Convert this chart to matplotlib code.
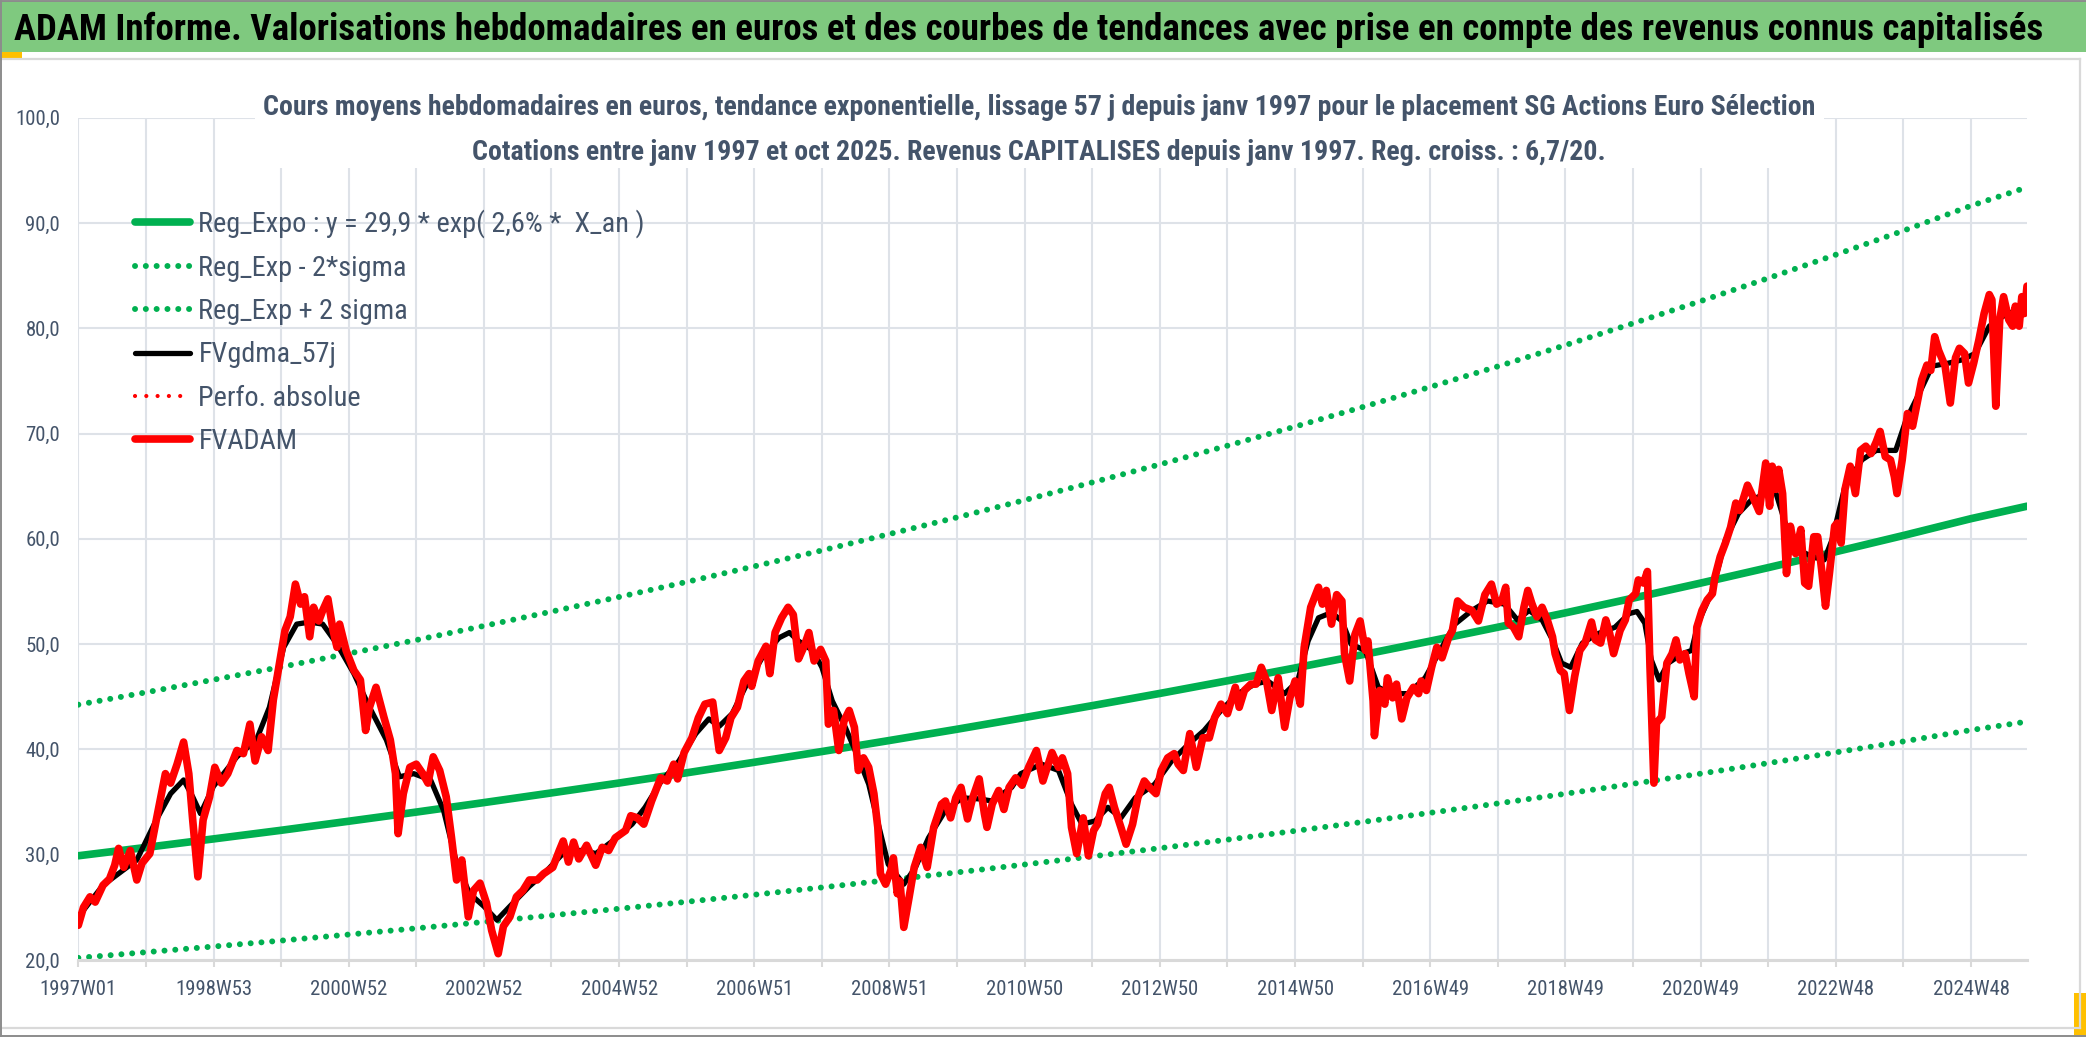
import matplotlib
matplotlib.use("Agg")
import matplotlib.pyplot as plt
from matplotlib import font_manager
from matplotlib.lines import Line2D
from matplotlib.patches import Rectangle
from matplotlib.ticker import FixedLocator, FuncFormatter

# ---------------- DATA ----------------
TITLE = ("ADAM Informe. Valorisations hebdomadaires en euros et des courbes de tendances "
         "avec prise en compte des revenus connus capitalisés")
SUBTITLE_1 = ("Cours moyens hebdomadaires en euros, tendance exponentielle, lissage 57 j depuis "
              "janv 1997 pour le placement SG Actions Euro Sélection")
SUBTITLE_2 = ("Cotations entre janv 1997 et oct 2025. Revenus CAPITALISES depuis janv 1997. "
              "Reg. croiss. : 6,7/20.")

X_LABELS = ["1997W01", "1998W53", "2000W52", "2002W52", "2004W52", "2006W51", "2008W51",
            "2010W50", "2012W50", "2014W50", "2016W49", "2018W49", "2020W49", "2022W48", "2024W48"]
N_WEEKS = 1500
Y_TICKS = [20, 30, 40, 50, 60, 70, 80, 90, 100]

SERIES_NAMES = ["Reg_Expo : y = 29,9 * exp( 2,6% *  X_an )", "Reg_Exp - 2*sigma",
                "Reg_Exp + 2 sigma", "FVgdma_57j", "Perfo. absolue", "FVADAM"]

# trend curves read at each yearly grid line (week 0, 52, ..., 1456) and at the last week
TREND_WEEK = list(range(0, 1457, 52)) + [1499]
REG_EXPO = [29.9, 30.69, 31.50, 32.32, 33.18, 34.05, 34.95, 35.87, 36.81, 37.78,
            38.78, 39.80, 40.85, 41.92, 43.03, 44.16, 45.32, 46.52, 47.74, 49.00,
            50.29, 51.61, 52.97, 54.37, 55.80, 57.27, 58.78, 60.32, 61.92, 63.1]
REG_LOW = [20.20, 20.74, 21.28, 21.84, 22.42, 23.01, 23.61, 24.24, 24.87, 25.53,
           26.20, 26.89, 27.60, 28.32, 29.07, 29.84, 30.62, 31.43, 32.26, 33.11,
           33.98, 34.87, 35.79, 36.74, 37.70, 38.70, 39.72, 40.76, 41.84, 42.64]
REG_HIGH = [44.25, 45.42, 46.62, 47.83, 49.11, 50.39, 51.73, 53.09, 54.48, 55.91,
            57.39, 58.90, 60.46, 62.04, 63.68, 65.36, 67.07, 68.85, 70.66, 72.52,
            74.43, 76.38, 78.40, 80.47, 82.58, 84.76, 86.99, 89.27, 91.64, 93.39]

# FVADAM (weekly valuation)
FVADAM_WEEK = [
    0, 4, 9, 13, 19, 24, 28, 31, 35, 40, 45, 49, 55, 60, 67, 71, 76, 81, 85, 88,
    92, 96, 101, 105, 110, 115, 122, 127, 132, 136, 141, 146, 150, 155, 159, 163, 167, 171, 174, 178,
    181, 185, 188, 192, 196, 199, 201, 206, 212, 217, 221, 224, 229, 235, 240, 244, 246, 250, 255, 260,
    265, 269, 273, 278, 283, 287, 291, 295, 300, 304, 309, 314, 318, 323, 327, 332, 337, 342, 347, 353,
    358,
    365, 370, 373, 377, 381, 385, 391, 398, 403, 408, 413, 421, 425, 430, 435, 441, 448, 453, 458, 461,
    466, 472, 477, 482, 488, 493, 498, 502, 507, 512, 516, 518, 523, 529, 532, 536, 541, 546, 550, 554,
    558, 562, 566, 571, 575, 577, 581, 585, 589, 593, 597, 600, 604, 608, 612, 615, 617, 621, 625, 627,
    630, 632, 635, 639, 643, 648, 653, 658, 664, 667, 671, 675, 679, 684, 688, 693, 697, 699, 703, 708,
    712, 716, 721, 726,
    731, 737, 742, 749, 754, 757, 761, 764, 768, 773, 777, 781, 784, 790, 793, 797, 802, 806, 811, 815,
    820, 824, 829, 833, 838, 843, 846, 850, 855, 860, 865, 870, 874, 879, 884, 890, 893, 897, 902, 906,
    910, 914, 918, 923, 928, 932, 936, 940, 943, 948, 954, 957, 960, 964, 968, 972, 974, 978, 982, 986,
    990, 992, 996, 997, 1001, 1005, 1007, 1011, 1014, 1018, 1022, 1027, 1031, 1033, 1037, 1041, 1045, 1049, 1054, 1057,
    1061, 1066, 1072, 1077, 1082, 1087, 1091, 1095, 1098,
    1100, 1104, 1108, 1112, 1115, 1118, 1122, 1126, 1130, 1134, 1136, 1140, 1143, 1147, 1151, 1155, 1159, 1164, 1167, 1171,
    1175, 1178, 1181, 1186, 1190, 1193, 1198, 1200, 1204, 1207, 1209, 1212, 1214, 1218, 1222, 1226, 1229, 1232, 1236, 1239,
    1243, 1245, 1249, 1253, 1257, 1259, 1263, 1267, 1271, 1275, 1278, 1284, 1287, 1293, 1298,
    1301, 1303, 1306, 1308, 1311, 1314, 1317, 1321, 1325, 1328, 1331, 1335, 1338, 1341, 1344, 1347, 1351, 1353, 1356, 1359,
    1363, 1367, 1371, 1375, 1379, 1383, 1386, 1390, 1394, 1397, 1399, 1403, 1407, 1411, 1415, 1418, 1422, 1425, 1428, 1431,
    1436, 1440, 1444, 1447, 1451, 1454, 1458, 1462, 1466, 1470, 1472, 1475, 1478, 1481, 1485, 1488, 1490, 1493, 1495, 1497,
    1499,
]
FVADAM = [
    23.3, 25.0, 26.0, 25.5, 27.1, 27.7, 29.0, 30.6, 28.8, 30.4, 27.6, 29.2, 30.1, 33.3, 37.7, 36.8, 38.6, 40.7, 37.7, 33.3,
    27.9, 33.3, 35.5, 38.3, 36.8, 37.7, 39.9, 39.6, 42.4, 38.9, 41.2, 39.9, 44.7, 48.4, 51.3, 52.6, 55.7, 53.8, 54.5, 50.7,
    53.5, 52.2, 53.2, 54.3, 51.3, 49.7, 51.9, 49.4, 47.5, 46.6, 41.8, 44.0, 45.9, 43.1, 40.9, 37.7, 32.0, 35.8, 38.3, 38.6,
    37.7, 36.8, 39.3, 38.0, 35.5, 31.7, 27.6, 29.5, 24.1, 26.6, 27.3, 25.4, 22.8, 20.6, 23.2, 24.1, 26.0, 26.6, 27.6, 27.6,
    28.2,
    28.8, 30.4, 31.3, 29.3, 31.2, 29.6, 30.9, 29.0, 30.7, 30.4, 31.6, 32.3, 33.7, 33.5, 32.9, 35.1, 37.3, 37.0, 38.6, 37.2,
    39.7, 41.1, 43.0, 44.3, 44.5, 39.9, 41.1, 43.0, 44.0, 46.5, 47.2, 46.0, 48.4, 49.8, 47.2, 51.1, 52.5, 53.5, 52.8, 48.6,
    49.7, 51.1, 48.4, 49.5, 48.4, 42.4, 43.7, 39.9, 42.7, 43.7, 42.1, 38.0, 39.2, 38.3, 35.8, 32.6, 28.2, 27.2, 28.5, 29.7,
    26.3, 27.5, 23.1, 25.9, 28.8, 30.7, 28.8, 32.6, 34.8, 35.1, 33.5, 35.4, 36.4, 33.4, 35.4, 37.2, 33.9, 32.6, 34.8, 36.1,
    34.3, 36.4, 37.3, 36.6,
    38.3, 39.9, 37.0, 39.7, 38.3, 39.2, 37.7, 32.6, 30.1, 33.5, 29.9, 32.3, 32.9, 35.8, 36.4, 34.5, 32.6, 31.0, 32.9, 35.4,
    37.0, 36.4, 35.8, 38.0, 39.2, 39.6, 38.6, 38.0, 41.5, 38.3, 41.1, 41.1, 43.0, 44.3, 43.4, 45.9, 44.0, 45.6, 46.2, 46.2,
    47.8, 46.5, 43.7, 46.8, 42.1, 44.9, 46.5, 44.3, 49.7, 53.5, 55.4, 53.8, 55.1, 51.9, 54.7, 54.1, 49.1, 46.5, 50.9, 52.2,
    49.4, 50.3, 44.6, 41.3, 45.6, 44.3, 46.8, 44.9, 46.2, 42.9, 44.9, 45.9, 45.3, 46.5, 45.6, 47.8, 49.7, 48.7, 50.6, 51.3,
    54.1, 53.5, 53.2, 52.2, 54.7, 55.7, 53.8, 54.1, 55.4,
    52.0, 51.6, 50.7, 53.5, 55.1, 53.9, 52.6, 53.5, 52.3, 50.7, 49.1, 47.5, 47.2, 43.7, 46.9, 49.4, 50.1, 52.1, 50.4, 50.1,
    52.3, 51.0, 49.1, 51.3, 52.3, 54.2, 54.8, 56.1, 55.8, 56.9, 47.8, 36.8, 42.5, 43.1, 48.2, 49.1, 50.4, 48.5, 49.1, 47.2,
    45.0, 51.6, 53.2, 54.2, 54.8, 56.4, 58.3, 59.6, 61.1, 63.4, 62.7, 65.1, 64.3, 62.6, 67.2,
    63.1, 66.9, 64.7, 66.6, 64.3, 56.7, 61.2, 58.6, 60.9, 55.8, 55.5, 60.2, 60.2, 57.1, 53.6, 56.7, 61.2, 61.5, 59.6, 64.7,
    66.9, 64.3, 68.4, 68.8, 68.1, 69.2, 70.2, 67.8, 67.5, 65.9, 64.3, 67.5, 71.9, 70.7, 73.2, 75.1, 76.5, 76.0, 79.2, 77.9,
    76.4, 72.9, 77.2, 78.1, 77.6, 74.8, 76.7, 78.9, 81.4, 83.2, 82.7, 72.6, 80.8, 83.0, 80.8, 80.2, 82.1, 80.2, 83.0, 81.4,
    84.0,
]

# FVgdma_57j (57-day moving average)
FVGDMA_WEEK = [
    0, 19, 45, 60, 71, 81, 88, 94, 104, 122, 137, 147, 158, 168, 178, 188, 199, 212, 224, 237,
    247, 258, 271, 281, 291, 301, 312, 322, 332, 347, 359, 375, 390, 398, 411, 426, 436, 448, 462, 475,
    485, 493, 503, 513, 526, 539, 547, 554, 565, 572, 580, 590, 600, 608, 616, 623, 635, 644, 654, 667,
    680, 693, 703, 718, 725, 741, 754, 764, 772, 782, 792, 802, 813, 828, 841, 854, 866, 879, 892, 905,
    915, 928, 938, 946, 954, 964, 972, 979, 990, 1000, 1010, 1023, 1036, 1049, 1059, 1072, 1084, 1097, 1107, 1116,
    1126, 1134, 1141, 1148, 1157, 1169, 1182, 1193, 1199, 1205, 1210, 1216, 1223, 1234, 1241, 1246, 1257, 1267, 1277, 1287,
    1298, 1306, 1313, 1324, 1334, 1343, 1349, 1359, 1372, 1383, 1398, 1406, 1416, 1426, 1439, 1449, 1459, 1470, 1480, 1490,
    1499,
]
FVGDMA = [
    24.1, 27.1, 29.5, 33.3, 35.8, 37.1, 35.5, 33.9, 36.5, 39.3, 40.9, 44.0, 49.7, 51.9, 52.1, 51.9, 50.0, 47.2, 44.0, 40.9,
    37.4, 37.7, 37.1, 34.2, 29.2, 26.3, 25.1, 23.8, 25.1, 27.0, 28.3, 30.4, 30.4, 30.1, 31.3, 32.9, 34.5, 36.9, 38.9, 41.5,
    42.9, 42.2, 43.4, 45.9, 48.7, 50.6, 51.1, 50.3, 49.4, 47.8, 44.6, 42.1, 39.2, 36.7, 32.6, 29.1, 27.2, 28.8, 31.6, 34.2,
    35.4, 35.3, 35.1, 36.4, 37.7, 38.6, 38.0, 34.8, 32.9, 33.2, 34.5, 33.5, 35.4, 36.7, 38.9, 40.5, 41.8, 43.7, 45.3, 46.2,
    46.5, 45.3, 46.5, 50.3, 52.5, 53.0, 52.2, 50.0, 49.4, 45.9, 45.3, 45.3, 46.8, 49.7, 51.9, 53.2, 54.1, 53.8, 52.3, 53.2,
    52.3, 50.4, 48.2, 47.8, 50.1, 51.0, 51.6, 52.9, 53.1, 52.0, 48.5, 46.6, 48.2, 49.1, 49.4, 52.0, 55.1, 59.9, 62.4, 63.7,
    64.3, 64.3, 61.5, 58.9, 58.3, 58.0, 59.9, 65.0, 67.5, 68.4, 68.4, 71.3, 73.8, 76.4, 76.7, 77.0, 77.6, 80.2, 81.1, 81.7,
    82.4,
]

# ---------------- STYLE / LAYOUT ----------------
W, H = 2086, 1037
GREEN = "#00B050"
RED = "#FF0000"
TXT = "#44546A"
GRID = "#DEE2E8"
AXIS = "#D9D9D9"

names = {f.name for f in font_manager.fontManager.ttflist}
FONT = next((c for c in ["Liberation Sans Narrow", "Roboto Condensed", "Open Sans Condensed",
                         "Liberation Sans"] if c in names), "DejaVu Sans")
plt.rcParams["font.family"] = [FONT, "DejaVu Sans"]

fig = plt.figure(figsize=(W / 100, H / 100), dpi=100)
fig.patch.set_facecolor("white")
renderer = fig.canvas.get_renderer()


def fx(px):
    return px / W


def fy(py):
    return 1 - py / H


def fit(s, target, weight="normal"):
    t = fig.text(0, 0, s, fontsize=20, fontweight=weight)
    w = t.get_window_extent(renderer).width
    t.remove()
    return 20 * target / w


# plot area
ax = fig.add_axes([fx(78.3), fy(960), (2027 - 78.3) / W, (960 - 117.7) / H])
ax.set_facecolor("white")

ax.plot(TREND_WEEK, REG_EXPO, color=GREEN, lw=5.5, solid_capstyle="round",
        label=SERIES_NAMES[0], zorder=2)
ax.plot(TREND_WEEK, REG_LOW, color=GREEN, lw=4.3, linestyle=(0, (0.01, 1.8)),
        dash_capstyle="round", label=SERIES_NAMES[1], zorder=2)
ax.plot(TREND_WEEK, REG_HIGH, color=GREEN, lw=4.3, linestyle=(0, (0.01, 1.8)),
        dash_capstyle="round", label=SERIES_NAMES[2], zorder=2)
ax.plot(FVGDMA_WEEK, FVGDMA, color="black", lw=3.8, solid_capstyle="round",
        solid_joinstyle="round", label=SERIES_NAMES[3], zorder=3)
ax.plot([], [], color=RED, lw=3.0, linestyle=(0, (0.01, 2.7)), dash_capstyle="round",
        label=SERIES_NAMES[4])
ax.plot(FVADAM_WEEK, FVADAM, color=RED, lw=5.5, solid_capstyle="round",
        solid_joinstyle="round", label=SERIES_NAMES[5], zorder=4)

ax.set_xlim(0, N_WEEKS - 1)
ax.set_ylim(Y_TICKS[0], Y_TICKS[-1])

tick_fs = fit("100,0", 45)
ax.xaxis.set_major_locator(FixedLocator(list(range(0, 104 * len(X_LABELS), 104))))
ax.xaxis.set_minor_locator(FixedLocator(list(range(52, 104 * len(X_LABELS), 104))))
ax.set_xticklabels(X_LABELS)
ax.set_yticks(Y_TICKS)
ax.yaxis.set_major_formatter(FuncFormatter(lambda v, p: f"{v:.1f}".replace(".", ",")))
ax.tick_params(axis="x", which="both", direction="out", length=5, width=1.5, color=AXIS,
               pad=9.5, labelsize=tick_fs, labelcolor=TXT)
ax.tick_params(axis="y", length=0, pad=13, labelsize=tick_fs, labelcolor=TXT)
ax.grid(True, axis="x", which="both", color=GRID, lw=1.5)
ax.grid(True, axis="y", which="major", color=GRID, lw=1.5)
ax.set_axisbelow(True)
for side in ("left", "right", "top"):
    ax.spines[side].set_visible(False)
ax.spines["bottom"].set_color(AXIS)
ax.spines["bottom"].set_linewidth(2.2)

# legend
leg_fs = fit("Reg_Exp - 2*sigma", 208)
fs_px = leg_fs * 100 / 72
leg_kw = dict(loc="upper left", bbox_transform=fig.transFigure, frameon=False, fontsize=leg_fs,
              handlelength=55 / fs_px, handletextpad=8.5 / fs_px, borderpad=0,
              borderaxespad=0, labelcolor=TXT)
leg = ax.legend(bbox_to_anchor=(fx(135), fy(200)), labelspacing=0.3, **leg_kw)
fig.canvas.draw()
texts = leg.get_texts()
pitch = texts[0].get_window_extent(renderer).y0 - texts[1].get_window_extent(renderer).y0
leg = ax.legend(bbox_to_anchor=(fx(135), fy(200)),
                labelspacing=0.3 + (43.4 - pitch) / fs_px, **leg_kw)
fig.canvas.draw()
bb = leg.legend_handles[0].get_window_extent(renderer)
dx = (135 + 3.5) - (bb.x0 + 3.5)
dy = (H - 222) - (bb.y0 + bb.y1) / 2
leg.set_bbox_to_anchor((fx(135) + dx / W, fy(200) + dy / H), transform=fig.transFigure)

# frame, title bar, marks
fig.add_artist(Rectangle((0, fy(52)), 1, 51 / H, transform=fig.transFigure,
                         facecolor="#7FC97F", edgecolor="none", zorder=1))
fig.add_artist(Rectangle((0, fy(59)), fx(22), 7 / H, transform=fig.transFigure,
                         facecolor="#FFC000", edgecolor="none", zorder=1))
fig.add_artist(Rectangle((fx(2074), fy(1037)), fx(12), 44 / H, transform=fig.transFigure,
                         facecolor="#FFC000", edgecolor="none", zorder=1))
fig.add_artist(Line2D([0, fx(2080)], [fy(59), fy(59)], transform=fig.transFigure,
                      color=AXIS, lw=1.6, zorder=1))
fig.add_artist(Line2D([0, fx(2080)], [fy(1028), fy(1028)], transform=fig.transFigure,
                      color=AXIS, lw=1.6, zorder=1))
fig.add_artist(Line2D([fx(2080), fx(2080)], [fy(59), fy(1028)], transform=fig.transFigure,
                      color=AXIS, lw=1.6, zorder=1))
for xs, ys in (([0, 1], [fy(0.5), fy(0.5)]), ([fx(0.5), fx(0.5)], [0, 1]),
               ([0, 1], [fy(1036), fy(1036)])):
    fig.add_artist(Line2D(xs, ys, transform=fig.transFigure, color="#8C8C8C", lw=1.4, zorder=1))

# white mask behind the chart title (hides the gridlines there)
fig.add_artist(Rectangle((fx(255), fy(168)), (1824 - 255) / W, (168 - 62) / H,
                         transform=fig.transFigure, facecolor="white", edgecolor="none", zorder=1))

title_fs = fit(TITLE, 2025, "bold")
fig.text(fx(14), fy(40), TITLE, fontsize=title_fs, fontweight="bold", color="black",
         ha="left", va="baseline", zorder=5)

sub_fs = fit(SUBTITLE_1, 1552, "bold")
fig.text(fx(1039), fy(115), SUBTITLE_1, fontsize=sub_fs, fontweight="bold", color=TXT,
         ha="center", va="baseline", zorder=5)
fig.text(fx(1039), fy(160), SUBTITLE_2, fontsize=sub_fs, fontweight="bold", color=TXT,
         ha="center", va="baseline", zorder=5)

fig.savefig("out.png", dpi=100, facecolor="white")
